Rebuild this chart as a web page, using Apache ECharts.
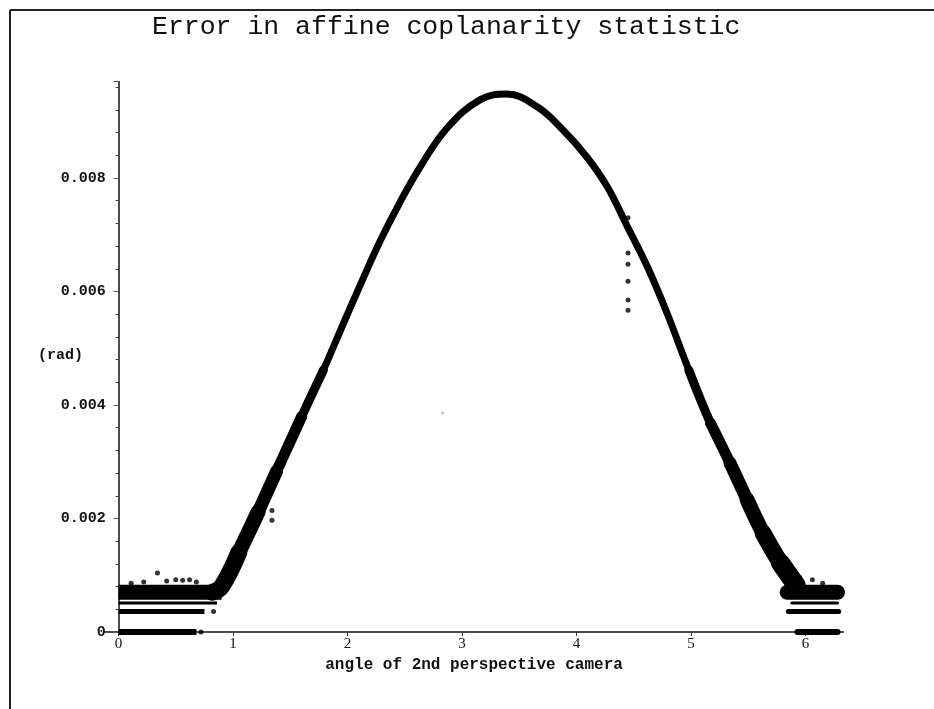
<!DOCTYPE html>
<html>
<head>
<meta charset="utf-8">
<script src="https://cdn.jsdelivr.net/npm/echarts@6/dist/echarts.min.js"></script>
<style>
  html, body { margin: 0; padding: 0; background: #fff; }
  #chart { width: 934px; height: 709px; }
</style>
</head>
<body>
<div id="chart"></div>
<script>
// main curve: angle of 2nd camera -> error [rad]
const curveAngle = [0.82, 0.90, 1.05, 1.22, 1.38, 1.60, 1.79, 1.95, 2.13, 2.29, 2.46, 2.63, 2.87, 3.16, 3.39,
                    3.66, 3.88, 4.09, 4.27, 4.44, 4.62, 4.79, 4.98, 5.17, 5.34, 5.49, 5.63, 5.78, 5.92];
const curveError = [0.00070, 0.00080, 0.00140, 0.00212, 0.00283, 0.00380, 0.00462, 0.00537, 0.00620, 0.00691,
                    0.00758, 0.00818, 0.00888, 0.00938, 0.00948, 0.00925, 0.00885, 0.00837, 0.00784, 0.00716,
                    0.00643, 0.00562, 0.00462, 0.00368, 0.00298, 0.00233, 0.00174, 0.00122, 0.00082];

// flat rows of points near the floor on both ends
const floorLevels = [0.00070, 0.00051, 0.00036, 0];
const floorLeftEnd = [0.90, 0.86, 0.75, 0.68];
const floorRightStart = [5.84, 5.88, 5.85, 5.93];
const floorRightEnd = [6.28, 6.28, 6.29, 6.28];

// loose points off the curve
const strayAngle = [0.11, 0.22, 0.34, 0.42, 0.50, 0.56, 0.62, 0.68, 0.83, 0.72, 1.34, 1.34,
                    4.45, 4.45, 4.45, 4.45, 4.45, 4.45, 5.95, 6.06, 6.15];
const strayError = [0.00086, 0.00088, 0.00104, 0.00090, 0.00092, 0.00091, 0.00092, 0.00088, 0.00036, 0.0, 0.00197, 0.00214,
                    0.00730, 0.00668, 0.00648, 0.00618, 0.00585, 0.00567, 0.00096, 0.00092, 0.00086];
const faintAngle = [2.83];
const faintError = [0.00386];

const xTicks = [0, 1, 2, 3, 4, 5, 6];

function pairs(xs, ys) {
    return xs.map((x, i) => [x, ys[i]]);
}

// thicker stroke over part of the curve, where the points scatter more
function band(from, to, width) {
    let d = pairs(curveAngle, curveError).filter(p => p[0] >= from && p[0] <= to);
    return {
        type: 'line', symbol: 'none', smooth: 0.4, silent: true, data: d,
        lineStyle: { color: '#000', width: width, cap: 'round', join: 'round' }
    };
}

const floorWidths = [15, 3, 5, 6];
let floorSeries = [];
floorLevels.forEach((lv, i) => {
    floorSeries.push({
        type: 'line', symbol: 'none', silent: true,
        data: [[0, lv], [floorLeftEnd[i], lv]],
        lineStyle: { color: '#000', width: floorWidths[i], cap: 'butt' }
    });
    floorSeries.push({
        type: 'line', symbol: 'none', silent: true,
        data: [[floorRightStart[i], lv], [floorRightEnd[i], lv]],
        lineStyle: { color: '#000', width: floorWidths[i], cap: 'round' }
    });
});

const mono = "'Liberation Mono', 'DejaVu Sans Mono', monospace";

let chart = echarts.init(document.getElementById('chart'));

chart.setOption({
    backgroundColor: '#fff',
    animation: false,
    title: {
        text: 'Error in affine coplanarity statistic',
        left: 147, top: 8,
        textStyle: { fontFamily: mono, fontSize: 26.5, fontWeight: 'normal', color: '#111' }
    },
    grid: { left: 104.8, right: 90.7, top: 81.5, bottom: 77, outerBoundsMode: 'none' },
    xAxis: {
        type: 'value', min: -0.12, max: 6.33,
        name: 'angle of 2nd perspective camera',
        nameLocation: 'middle', nameGap: 24,
        nameTextStyle: { fontFamily: mono, fontSize: 16, fontWeight: 'bold', color: '#111' },
        axisLine: { onZero: true, lineStyle: { color: '#111', width: 1.5 } },
        axisTick: { customValues: xTicks, length: 4, lineStyle: { color: '#333' } },
        axisLabel: { customValues: xTicks, margin: 5, fontFamily: "'Liberation Serif', serif", fontSize: 15, color: '#111' },
        splitLine: { show: false }
    },
    yAxis: {
        type: 'value', min: 0, max: 0.0097, interval: 0.002,
        axisLine: { onZero: true, lineStyle: { color: '#111', width: 1.5 } },
        axisTick: { length: 5, lineStyle: { color: '#555' } },
        minorTick: { show: true, splitNumber: 5, length: 3, lineStyle: { color: '#444' } },
        axisLabel: {
            showMaxLabel: false, margin: -1,
            fontFamily: mono, fontSize: 15, fontWeight: 'bold', color: '#111',
            formatter: v => (v === 0 ? '0' : v.toFixed(3))
        },
        splitLine: { show: false },
        minorSplitLine: { show: false }
    },
    graphic: [
        { type: 'line', shape: { x1: 10, y1: 10, x2: 934, y2: 10 }, style: { stroke: '#222', lineWidth: 2 } },
        { type: 'line', shape: { x1: 10, y1: 10, x2: 10, y2: 709 }, style: { stroke: '#222', lineWidth: 2 } },
        { type: 'text', left: 38, top: 348, style: { text: '(rad)', font: 'bold 15px ' + mono, fill: '#111' } }
    ],
    series: [
        {
            type: 'line', symbol: 'none', smooth: 0.4, silent: true,
            data: pairs(curveAngle, curveError),
            lineStyle: { color: '#000', width: 7, cap: 'round', join: 'round' }
        },
        // left low part, tapering upward
        band(0.82, 1.79, 9),
        band(0.82, 1.60, 11),
        band(0.82, 1.38, 13),
        band(0.82, 1.22, 15),
        band(0.82, 1.05, 17),
        // right low part, widening downward
        band(4.98, 5.92, 9),
        band(5.17, 5.92, 11),
        band(5.34, 5.92, 13),
        band(5.49, 5.92, 15),
        band(5.63, 5.92, 17),
        band(5.78, 5.92, 19),
        ...floorSeries,
        {
            type: 'scatter', symbolSize: 5, silent: true,
            data: pairs(strayAngle, strayError),
            itemStyle: { color: '#000' }
        },
        {
            type: 'scatter', symbolSize: 3, silent: true,
            data: pairs(faintAngle, faintError),
            itemStyle: { color: '#aaa' }
        }
    ]
});
</script>
</body>
</html>
